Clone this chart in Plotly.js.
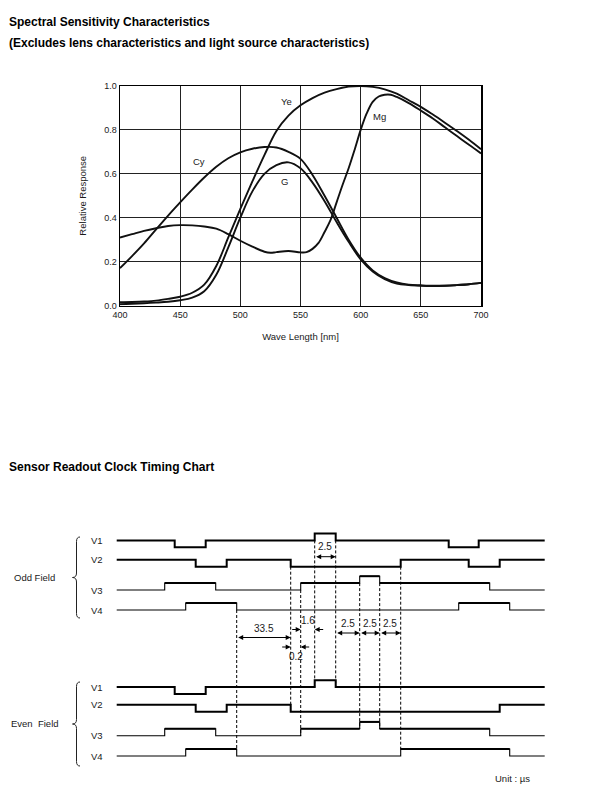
<!DOCTYPE html>
<html><head><meta charset="utf-8">
<script src="https://cdn.plot.ly/plotly-3.0.1.min.js"></script>
<style>html,body{margin:0;padding:0;background:#fff}#chart{width:600px;height:793px}</style>
</head><body><div id="chart"></div>
<script>
// ---------------- Spectral sensitivity data ----------------
const waveLength = [400,410,420,430,440,450,460,470,480,490,500,510,520,530,540,550,560,570,580,590,600,610,620,630,640,650,660,670,680,690,700];
const ye = [0.015,0.016,0.018,0.022,0.03,0.04,0.058,0.095,0.18,0.31,0.44,0.565,0.685,0.795,0.865,0.912,0.945,0.97,0.986,0.997,1.0,0.996,0.985,0.965,0.935,0.905,0.87,0.833,0.795,0.755,0.712];
const cy = [0.17,0.225,0.283,0.347,0.41,0.47,0.528,0.583,0.632,0.671,0.698,0.714,0.722,0.72,0.70,0.668,0.595,0.50,0.40,0.30,0.218,0.16,0.125,0.105,0.095,0.092,0.09,0.09,0.093,0.097,0.103];
const g = [0.006,0.008,0.01,0.013,0.017,0.024,0.036,0.065,0.14,0.265,0.40,0.52,0.60,0.64,0.652,0.625,0.56,0.475,0.38,0.29,0.21,0.155,0.12,0.10,0.093,0.09,0.089,0.09,0.093,0.097,0.103];
const mgWave = [400,410,420,430,440,450,460,470,480,490,500,510,520,525,530,540,550,555,560,565,570,575,580,585,590,595,600,605,610,615,620,625,630,640,650,660,670,680,690,700];
const mg = [0.31,0.325,0.34,0.352,0.362,0.366,0.365,0.36,0.35,0.325,0.295,0.268,0.245,0.24,0.243,0.248,0.242,0.243,0.258,0.285,0.335,0.39,0.47,0.55,0.625,0.71,0.80,0.875,0.928,0.952,0.96,0.96,0.95,0.922,0.888,0.852,0.812,0.772,0.732,0.693];
const curveLabels = ['Ye','Cy','G','Mg'];
const curveLabelX = [538,466,537,616];
const curveLabelY = [0.93,0.654,0.567,0.863];
const xTicks = [400,450,500,550,600,650,700];
const yTicks = [0,0.2,0.4,0.6,0.8,1.0];

// ---------------- Readout clock timing data (schematic time units) ----------------
const signalNames = ['V1','V2','V3','V4'];
const oddV1Edges = [0,58,89,198,219,332,362,428];  const oddV1Levels = [1,0,1,2,1,0,1];
const oddV2Edges = [0,79,110,174,284,352,383,428]; const oddV2Levels = [1,0,1,0,1,0,1];
const oddV3Edges = [0,48,99,184,243,263,373,428];  const oddV3Levels = [0,1,0,1,2,1,0];
const oddV4Edges = [0,69,120,342,393,428];         const oddV4Levels = [0,1,0,1,0];
const evenV1Edges = [0,58,89,198,219,428];         const evenV1Levels = [1,0,1,2,1];
const evenV2Edges = [0,79,110,174,383,428];        const evenV2Levels = [1,0,1,0,1];
const evenV3Edges = [0,48,99,184,243,263,373,428]; const evenV3Levels = [0,1,0,1,2,1,0];
const evenV4Edges = [0,69,120,284,393,428];        const evenV4Levels = [0,1,0,1,0];
// dimension marks (µs)
const dimLabels = ['2.5','33.5','1.6','0.2','2.5','2.5','2.5'];
const dimFrom   = [198,120,184,174,219,243,263];
const dimTo     = [219,174,198,184,243,263,284];
const dimInward = [false,false,true,true,false,false,false];
// dashed reference lines: time, odd-field signal/level, even-field signal/level
const refTimes      = [120,174,184,198,219,243,263,284];
const refOddSignal  = ['V4','V2','V3','V1','V1','V3','V3','V2'];
const refOddLevel   = [0,0,0,1,1,1,1,0];
const refEvenSignal = ['V4','V2','V3','V1','V1','V3','V3','V4'];
const refEvenLevel  = [1,1,0,1,1,1,1,1];

// ---------------- layout constants ----------------
const W = 600, H = 793;
const FONT = 'Liberation Sans, Arial, sans-serif';
const X0 = 116.7;            // left start of timing lines (px)
const STEP = 6.9;            // level step (px)
const rowBase = {odd:{V1:547.3,V2:566.7,V3:590,V4:610}, even:{V1:694,V2:711.7,V3:735.7,V4:756}};
const dimRowY = [556.7,637.5,629.5,647,633,633,633];
const dimTextY = [546.5,628.5,620,656,623,623,623];
const tx = px => px - X0;

const traces = [];
const black = '#000';
function addCurve(x,y){
  traces.push({type:'scatter',mode:'lines',x:x,y:y,xaxis:'x',yaxis:'y',
    line:{color:'#111',width:1.9,shape:'spline',smoothing:1},hoverinfo:'skip'});
}
addCurve(waveLength, cy);
addCurve(waveLength, g);
addCurve(waveLength, ye);
addCurve(mgWave, mg);

function levelY(field, sig, lvl){ return rowBase[field][sig] - lvl*STEP; }
function addSignal(field, sig, edges, levels, thickAll){
  const x=[], y=[];
  for(let i=0;i<levels.length;i++){ x.push(edges[i]); y.push(levelY(field,sig,levels[i])); }
  x.push(edges[edges.length-1]); y.push(levelY(field,sig,levels[levels.length-1]));
  traces.push({type:'scatter',mode:'lines',x:x,y:y,xaxis:'x2',yaxis:'y2',
    line:{shape:'hv',color:black,width:thickAll?2:1.1},hoverinfo:'skip'});
  if(!thickAll){
    const ox=[], oy=[];
    for(let i=0;i<levels.length;i++){
      if(levels[i]>0){ ox.push(edges[i],edges[i+1],null); const yy=levelY(field,sig,levels[i]); oy.push(yy,yy,null); }
    }
    traces.push({type:'scatter',mode:'lines',x:ox,y:oy,xaxis:'x2',yaxis:'y2',
      line:{color:black,width:2},hoverinfo:'skip'});
  }
}
addSignal('odd','V1',oddV1Edges,oddV1Levels,true);
addSignal('odd','V2',oddV2Edges,oddV2Levels,true);
addSignal('odd','V3',oddV3Edges,oddV3Levels,false);
addSignal('odd','V4',oddV4Edges,oddV4Levels,false);
addSignal('even','V1',evenV1Edges,evenV1Levels,true);
addSignal('even','V2',evenV2Edges,evenV2Levels,true);
addSignal('even','V3',evenV3Edges,evenV3Levels,false);
addSignal('even','V4',evenV4Edges,evenV4Levels,false);

const shapes = [];
for(let i=0;i<refTimes.length;i++){
  shapes.push({type:'line',xref:'x2',yref:'y2',x0:refTimes[i],x1:refTimes[i],
    y0:levelY('odd',refOddSignal[i],refOddLevel[i]), y1:levelY('even',refEvenSignal[i],refEvenLevel[i]),
    line:{color:black,width:1,dash:'3px,2px'}});
}
function brace(top,bottom,tipPx,bodyPx,endPx){
  const mid=(top+bottom)/2, r=4.5;
  const a=tx(endPx), b=tx(bodyPx), c=tx(tipPx);
  return {type:'path',xref:'x2',yref:'y2',line:{color:'#222',width:1},
    path:`M ${a},${top} Q ${b},${top} ${b},${top+r} L ${b},${mid-r} Q ${b},${mid} ${c},${mid} Q ${b},${mid} ${b},${mid+r} L ${b},${bottom-r} Q ${b},${bottom} ${a},${bottom}`};
}
shapes.push(brace(537,618,72.5,76.5,80));
shapes.push(brace(682,766,72.5,76.5,80));

const annotations = [];
function txt(text,x,y,xref,yref,size,opts){
  return Object.assign({text:text,x:x,y:y,xref:xref,yref:yref,showarrow:false,
    font:{family:FONT,size:size,color:'#111'},xanchor:'center',yanchor:'middle'},opts||{});
}
const small = {family:FONT,size:9.5,color:'#1a1a1a'};
// page titles
annotations.push(txt('<b>Spectral Sensitivity Characteristics</b>',7/W,1-22/H,'paper','paper',12,{xanchor:'left',font:{family:FONT,size:12,color:'#000'}}));
annotations.push(txt('<b>(Excludes lens characteristics and light source characteristics)</b>',7/W,1-43/H,'paper','paper',12,{xanchor:'left',font:{family:FONT,size:12,color:'#000'}}));
annotations.push(txt('<b>Sensor Readout Clock Timing Chart</b>',7/W,1-467/H,'paper','paper',12,{xanchor:'left',font:{family:FONT,size:12,color:'#000'}}));
// curve labels
for(let i=0;i<curveLabels.length;i++) annotations.push(txt(curveLabels[i],curveLabelX[i],curveLabelY[i],'x','y',9.5,{font:small}));
// signal labels
const allSignals = [
  ['odd','V1',oddV1Levels],['odd','V2',oddV2Levels],['odd','V3',oddV3Levels],['odd','V4',oddV4Levels],
  ['even','V1',evenV1Levels],['even','V2',evenV2Levels],['even','V3',evenV3Levels],['even','V4',evenV4Levels]];
allSignals.forEach(s=>annotations.push(txt(s[1],tx(97),levelY(s[0],s[1],s[2][0]),'x2','y2',9.5,{font:small})));
annotations.push(txt('Odd Field',tx(34),577,'x2','y2',9.5,{font:small}));
annotations.push(txt('Even  Field',tx(35),723,'x2','y2',9.5,{font:small}));
annotations.push(txt('Unit : µs',tx(512),778,'x2','y2',9.5,{font:small}));
// dimension arrows
function arrow(xHead,xTail,y,side){
  return {x:xHead,y:y,ax:xTail,ay:y,xref:'x2',yref:'y2',axref:'x2',ayref:'y2',text:'',showarrow:true,
    arrowhead:2,arrowsize:1,arrowwidth:1,arrowcolor:black,arrowside:side,standoff:0,startstandoff:0};
}
for(let i=0;i<dimLabels.length;i++){
  const a=dimFrom[i], b=dimTo[i], y=dimRowY[i];
  if(dimInward[i]){
    annotations.push(arrow(a, a-10, y, 'end'));
    annotations.push(arrow(b, b+10, y, 'end'));
  } else {
    annotations.push(arrow(b, a, y, 'end+start'));
  }
  annotations.push(txt(dimLabels[i],(a+b)/2,dimTextY[i],'x2','y2',10,{font:{family:FONT,size:10,color:'#1a1a1a'}}));
}

const layout = {
  width:W,height:H,margin:{l:0,r:0,t:0,b:0},paper_bgcolor:'#fff',plot_bgcolor:'rgba(0,0,0,0)',
  showlegend:false,font:{family:FONT,color:'#111'},
  xaxis:{domain:[120/W,481/W],range:[400,700],tickvals:xTicks,ticks:'',showgrid:true,gridcolor:'#222',gridwidth:1,
    showline:true,mirror:true,linecolor:'#000',linewidth:1.5,zeroline:false,fixedrange:true,
    tickfont:{family:FONT,size:9,color:'#1a1a1a'},
    title:{text:'Wave Length [nm]',font:{family:FONT,size:9.5,color:'#1a1a1a'},standoff:14}},
  yaxis:{domain:[1-305.5/H,1-86/H],range:[0,1],tickvals:yTicks,tickformat:'.1f',ticks:'',showgrid:true,gridcolor:'#222',gridwidth:1,
    showline:true,mirror:true,linecolor:'#000',linewidth:1.5,zeroline:false,fixedrange:true,
    tickfont:{family:FONT,size:9,color:'#1a1a1a'},
    title:{text:'Relative Response',font:{family:FONT,size:9.5,color:'#1a1a1a'},standoff:16}},
  xaxis2:{domain:[0,1],range:[-X0,W-X0],visible:false,fixedrange:true},
  yaxis2:{domain:[0,0.4],range:[H,H-0.4*H],visible:false,fixedrange:true},
  shapes:shapes,annotations:annotations
};
Plotly.newPlot('chart',traces,layout,{displayModeBar:false,staticPlot:true});
</script></body></html>
